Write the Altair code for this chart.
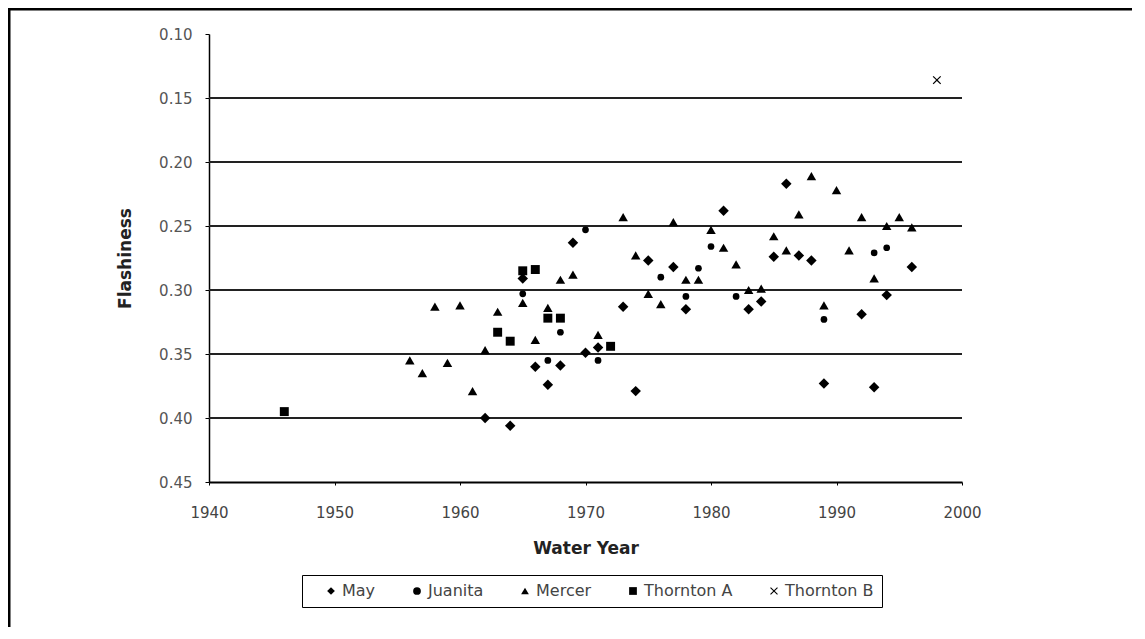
import altair as alt
import pandas as pd

# ---- data ----
stations = ["May", "Juanita", "Mercer", "Thornton A", "Thornton B"]

may_year = [1962, 1964, 1965, 1966, 1967, 1968, 1969, 1970, 1971, 1973, 1974, 1975,
            1977, 1978, 1981, 1983, 1984, 1985, 1986, 1987, 1988, 1989, 1992, 1993,
            1994, 1996]
may_val = [0.400, 0.406, 0.291, 0.360, 0.374, 0.359, 0.263, 0.349, 0.345, 0.313, 0.379, 0.277,
           0.282, 0.315, 0.238, 0.315, 0.309, 0.274, 0.217, 0.273, 0.277, 0.373, 0.319, 0.376,
           0.304, 0.282]

juanita_year = [1965, 1967, 1968, 1970, 1971, 1976, 1978, 1979, 1980, 1982, 1989, 1993, 1994]
juanita_val = [0.303, 0.355, 0.333, 0.253, 0.355, 0.290, 0.305, 0.283, 0.266, 0.305, 0.323, 0.271, 0.267]

mercer_year = [1956, 1957, 1958, 1959, 1960, 1961, 1962, 1963, 1965, 1966, 1967, 1968,
               1969, 1971, 1973, 1974, 1975, 1976, 1977, 1978, 1979, 1980, 1981, 1982,
               1983, 1984, 1985, 1986, 1987, 1988, 1989, 1990, 1991, 1992, 1993, 1994,
               1995, 1996]
mercer_val = [0.355, 0.365, 0.313, 0.357, 0.312, 0.379, 0.347, 0.317, 0.310, 0.339, 0.314, 0.292,
              0.288, 0.335, 0.243, 0.273, 0.303, 0.311, 0.247, 0.292, 0.292, 0.253, 0.267, 0.280,
              0.300, 0.299, 0.258, 0.269, 0.241, 0.211, 0.312, 0.222, 0.269, 0.243, 0.291, 0.250,
              0.243, 0.251]

thorntonA_year = [1946, 1963, 1964, 1965, 1966, 1967, 1968, 1972]
thorntonA_val = [0.395, 0.333, 0.340, 0.285, 0.284, 0.322, 0.322, 0.344]

thorntonB_year = [1998]
thorntonB_val = [0.136]

x_ticks = [1940, 1950, 1960, 1970, 1980, 1990, 2000]
y_ticks = [0.10, 0.15, 0.20, 0.25, 0.30, 0.35, 0.40, 0.45]
grid_values = [0.15, 0.20, 0.25, 0.30, 0.35, 0.40]

# ---- build table ----
rows = []
for name, yrs, vals in [("May", may_year, may_val), ("Juanita", juanita_year, juanita_val),
                        ("Mercer", mercer_year, mercer_val),
                        ("Thornton A", thorntonA_year, thorntonA_val),
                        ("Thornton B", thorntonB_year, thorntonB_val)]:
    for yr, v in zip(yrs, vals):
        rows.append({"Station": name, "Year": yr, "Flashiness": v})
df = pd.DataFrame(rows)

# ---- styles ----
X_PATH = ("M-1,-0.8L-0.8,-1L0,-0.2L0.8,-1L1,-0.8L0.2,0L1,0.8L0.8,1L0,0.2"
          "L-0.8,1L-1,0.8L-0.2,0Z")
shapes = ["diamond", "circle", "triangle-up", "square", X_PATH]
sizes = [110, 45, 90, 80, 70]
size_expr = "[{}][indexof([{}], datum.Station)]".format(
    ",".join(str(s) for s in sizes), ",".join("'" + s + "'" for s in stations))

FONT = "DejaVu Sans"
x_scale = alt.Scale(domain=[1940, 2000], nice=False, zero=False)
y_scale = alt.Scale(domain=[0.10, 0.45], reverse=True, nice=False, zero=False)

x_axis = alt.Axis(title="Water Year", values=x_ticks, format="d", grid=False,
                  domainColor="black", domainWidth=2, tickColor="black", labelFlush=False,
                  tickSize=3, labelPadding=20, labelFont=FONT, labelFontSize=15,
                  labelColor="#444444", titleFont=FONT, titleFontSize=17,
                  titleFontWeight="bold", titleColor="#222222",
                  titleY=66, titleBaseline="middle")
y_axis = alt.Axis(title="Flashiness", values=y_ticks, format=".2f", grid=False,
                  domainColor="black", domainWidth=1.5, tickColor="black",
                  tickSize=4, labelPadding=13, labelFont=FONT, labelFontSize=15,
                  labelColor="#555555", titleFont=FONT, titleFontSize=17,
                  titleFontWeight="bold", titleColor="#222222",
                  titleX=-84, titleY=224, titleAngle=270, titleBaseline="middle",
                  titleAlign="center")
legend = alt.Legend(title=None, orient="none", legendX=93, legendY=541,
                    direction="horizontal", columns=5,
                    strokeColor="black", padding=8,
                    symbolFillColor="black", symbolStrokeColor="black", symbolSize=60,
                    symbolOffset=13, columnPadding=20,
                    labelOffset=3, labelFont=FONT, labelFontSize=16,
                    labelColor="#444444")

grid = alt.Chart(pd.DataFrame({"g": grid_values})).mark_rule(
    color="#222222", strokeWidth=1.8
).encode(y=alt.Y("g:Q", scale=y_scale, axis=y_axis))

points = alt.Chart(df).transform_calculate(sz=size_expr).mark_point(
    filled=True, opacity=1, color="black"
).encode(
    x=alt.X("Year:Q", scale=x_scale, axis=x_axis),
    y=alt.Y("Flashiness:Q", scale=y_scale, axis=y_axis),
    shape=alt.Shape("Station:N", scale=alt.Scale(domain=stations, range=shapes), legend=legend),
    size=alt.Size("sz:Q", scale=None, legend=None),
)

frame_top = alt.Chart(pd.DataFrame({"k": [0]})).mark_rule(color="black", strokeWidth=3).encode(
    x=alt.value(-201), x2=alt.value(928), y=alt.value(-25))
frame_left = alt.Chart(pd.DataFrame({"k": [0]})).mark_rule(color="black", strokeWidth=3).encode(
    x=alt.value(-200), y=alt.value(-26), y2=alt.value(597))

chart = alt.layer(grid, points, frame_top, frame_left).properties(
    width=753, height=448,
    autosize=alt.AutoSizeParams(type="none"),
    padding={"left": 201, "top": 26, "right": 170, "bottom": 145},
    background="white",
).configure_view(stroke=None)

chart.save("out.html", embed_options={"renderer": "svg", "actions": False})
